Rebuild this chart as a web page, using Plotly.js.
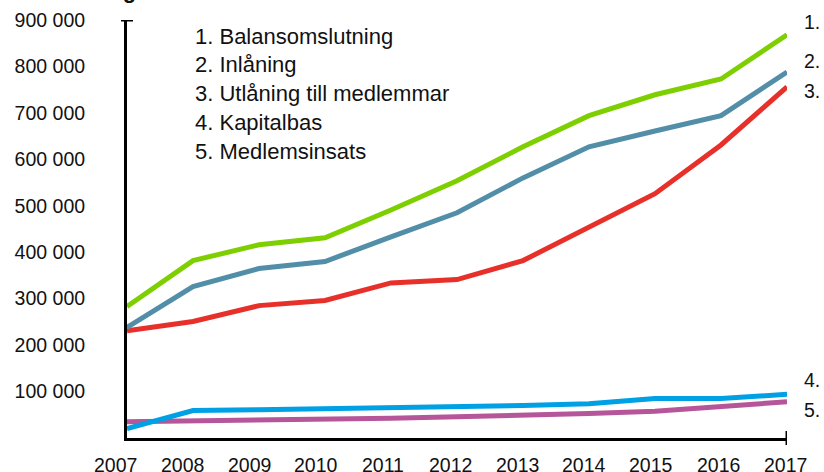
<!DOCTYPE html>
<html>
<head>
<meta charset="utf-8">
<script src="https://cdn.plot.ly/plotly-3.0.1.min.js"></script>
<style>html,body{margin:0;padding:0;background:#fff;}#chart{width:824px;height:472px;}</style>
</head>
<body>
<div id="chart"></div>
<script>
const years = [2007, 2008, 2009, 2010, 2011, 2012, 2013, 2014, 2015, 2016, 2017];
const balansomslutning = [283000, 382000, 416000, 431000, 491000, 554000, 627000, 694000, 739000, 773000, 868000];
const inlaning = [238000, 326000, 365000, 380000, 433000, 485000, 560000, 627000, 661000, 694000, 788000];
const utlaning = [231000, 251000, 285000, 296000, 334000, 341000, 382000, 453000, 526000, 631000, 756000];
const kapitalbas = [20000, 59000, 61000, 63000, 66000, 68000, 70000, 74000, 85000, 85000, 94000];
const medlemsinsats = [35000, 36500, 38700, 40800, 42500, 45600, 48000, 52700, 57600, 67000, 78000];
const seriesNames = ["1. Balansomslutning", "2. Inlåning", "3. Utlåning till medlemmar", "4. Kapitalbas", "5. Medlemsinsats"];
const endLabels = ["1.", "2.", "3.", "4.", "5."];
const yTickVals = [100000, 200000, 300000, 400000, 500000, 600000, 700000, 800000, 900000];
const yTickText = ["100 000", "200 000", "300 000", "400 000", "500 000", "600 000", "700 000", "800 000", "900 000"];
const xTickText = ["2007", "2008", "2009", "2010", "2011", "2012", "2013", "2014", "2015", "2016", "2017"];

const colors = ["#7ECF00", "#528EA8", "#E8302A", "#00A0E4", "#B5559A"];
const allSeries = [balansomslutning, inlaning, utlaning, kapitalbas, medlemsinsats];
const font = "Liberation Sans, Arial, Helvetica, sans-serif";

const traces = allSeries.map((s, i) => ({
  x: years, y: s, type: "scatter", mode: "lines", name: seriesNames[i],
  line: {color: colors[i], width: 5}, hoverinfo: "skip"
}));
traces.reverse();

const annotations = [];
// x tick labels: in the reference they sit slightly left of the data points
xTickText.forEach((t, i) => {
  annotations.push({
    text: t, xref: "x", yref: "paper", x: years[i], y: 0, xshift: -12 + i * 1.0, yshift: -27,
    xanchor: "center", yanchor: "middle", showarrow: false,
    font: {family: font, size: 19.5, color: "#111"}
  });
});
const legendY = [37, 65, 94, 123, 152];
seriesNames.forEach((n, i) => {
  annotations.push({
    text: n, xref: "paper", yref: "paper", x: 0.1, y: (438.5 - legendY[i]) / 418.5,
    xanchor: "left", yanchor: "middle", showarrow: false,
    font: {family: font, size: 22, color: "#111"}
  });
});
const endY = [22, 61, 91, 380, 410];
endLabels.forEach((t, i) => {
  annotations.push({
    text: t, xref: "paper", yref: "paper", x: 1, xshift: 15, y: (438.5 - endY[i]) / 418.5,
    xanchor: "left", yanchor: "middle", showarrow: false,
    font: {family: font, size: 19.5, color: "#111"}
  });
});
annotations.push({
  text: "<b>Utveckling</b>", xref: "paper", yref: "paper", x: 0.0167, y: 1,
  yshift: 15, xanchor: "right", yanchor: "bottom", showarrow: false,
  font: {family: font, size: 22, color: "#111"}
});

const layout = {
  width: 824, height: 472,
  margin: {l: 127, r: 37, t: 20, b: 33.5, pad: 0},
  paper_bgcolor: "#fff", plot_bgcolor: "#fff",
  showlegend: false,
  font: {family: font, color: "#111"},
  xaxis: {
    range: [2007, 2017], tickvals: years, showticklabels: false,
    showgrid: false, zeroline: false, showline: true, linecolor: "#000", linewidth: 3,
    ticks: ""
  },
  yaxis: {
    range: [0, 900000], tickvals: yTickVals, ticktext: yTickText,
    showgrid: false, zeroline: false, showline: true, linecolor: "#000", linewidth: 3,
    ticks: "", tickfont: {family: font, size: 19.5, color: "#111"}, ticklabelstandoff: 35
  },
  shapes: [
    {type: "line", xref: "paper", yref: "y", xsizemode: "pixel", xanchor: 0, x0: -6, x1: 6,
     y0: 900000, y1: 900000, line: {color: "#000", width: 3}},
    {type: "line", xref: "x", yref: "paper", ysizemode: "pixel", yanchor: 0, y0: -7, y1: 7,
     x0: 2017, x1: 2017, line: {color: "#000", width: 3}}
  ],
  annotations: annotations
};

Plotly.newPlot("chart", traces, layout, {displayModeBar: false, staticPlot: true});
</script>
</body>
</html>
